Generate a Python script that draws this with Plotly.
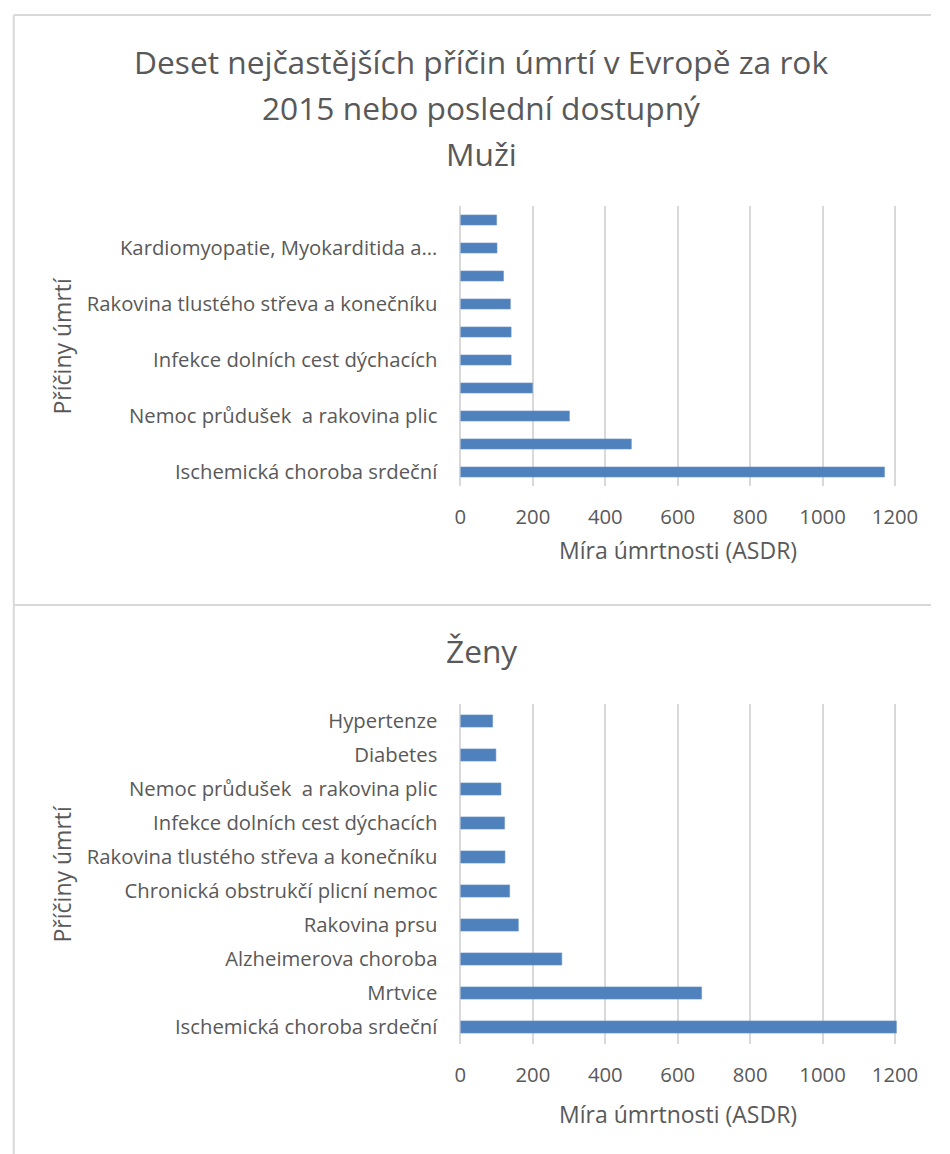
import plotly.graph_objects as go

W, H = 950, 1154

# ---------------- data ----------------
men_causes = [
    "Ischemická choroba srdeční",
    "Mrtvice",
    "Nemoc průdušek  a rakovina plic",
    "Chronická obstrukčí plicní nemoc",
    "Infekce dolních cest dýchacích",
    "Cirhóza jater",
    "Rakovina tlustého střeva a konečníku",
    "Rakovina prostaty",
    "Kardiomyopatie, Myokarditida a endokarditida",
    "Rakovina žaludku",
]
men_labels_shown = [
    "Ischemická choroba srdeční",
    "Nemoc průdušek  a rakovina plic",
    "Infekce dolních cest dýchacích",
    "Rakovina tlustého střeva a konečníku",
    "Kardiomyopatie, Myokarditida a…",
]
men_values = [1171, 472, 301, 199, 140, 140, 138, 119, 101, 100]

women_causes = [
    "Ischemická choroba srdeční",
    "Mrtvice",
    "Alzheimerova choroba",
    "Rakovina prsu",
    "Chronická obstrukčí plicní nemoc",
    "Rakovina tlustého střeva a konečníku",
    "Infekce dolních cest dýchacích",
    "Nemoc průdušek  a rakovina plic",
    "Diabetes",
    "Hypertenze",
]
women_values = [1204, 666, 280, 160, 136, 123, 122, 112, 98, 89]

x_ticks = [0, 200, 400, 600, 800, 1000, 1200]

title_lines = ["Deset nejčastějších příčin úmrtí v Evropě za rok",
               "2015 nebo poslední dostupný"]
title_men = "Muži"
title_women = "Ženy"
x_title = "Míra úmrtnosti (ASDR)"
y_title = "Příčiny úmrtí"

# ---------------- style ----------------
FONT = "Open Sans"
TXT = "#595959"
GRID = "#D9D9D9"
BAR = "#4F81BD"
LBL = 20.3
AXT = 23
TTL = 31.7


def px(x):
    return x / W


def py(y):
    return 1 - y / H


x0_px, x1200_px = 466.7, 913.0
scale = (x1200_px - x0_px) / 1200
xmax = 1210
x_dom = [px(x0_px), px(x0_px + xmax * scale)]

top_plot = (206, 486)
bot_plot = (704, 1044)

fig = go.Figure()
fig.add_trace(go.Bar(y=men_causes, x=men_values, orientation="h",
                     marker=dict(color=BAR, line=dict(color="#6F96C8", width=0.6)),
                     width=0.36, xaxis="x", yaxis="y", showlegend=False,
                     hoverinfo="x+y"))
fig.add_trace(go.Bar(y=women_causes, x=women_values, orientation="h",
                     marker=dict(color=BAR, line=dict(color="#6F96C8", width=0.6)),
                     width=0.36, xaxis="x2", yaxis="y2", showlegend=False,
                     hoverinfo="x+y"))

xaxis_common = dict(
    range=[0, xmax], tickvals=x_ticks, showgrid=True, gridcolor=GRID, gridwidth=1.5,
    zeroline=True, zerolinecolor=GRID, zerolinewidth=1.5, showline=False,
    ticks="", tickfont=dict(family=FONT, size=LBL, color=TXT),
    ticklabelstandoff=17, fixedrange=True,
)
yaxis_common = dict(
    type="category", showgrid=False, zeroline=False, showline=False, ticks="",
    tickfont=dict(family=FONT, size=LBL, color=TXT), ticklabelstandoff=22,
    fixedrange=True,
)

fig.update_layout(
    width=W, height=H,
    margin=dict(l=0, r=0, t=0, b=0),
    paper_bgcolor="white", plot_bgcolor="white",
    xaxis=dict(domain=x_dom, anchor="y", **xaxis_common),
    yaxis=dict(domain=[py(top_plot[1]), py(top_plot[0])], anchor="x",
               categoryorder="array", categoryarray=men_causes,
               tickvals=[men_causes[i] for i in range(0, 10, 2)],
               ticktext=men_labels_shown, **yaxis_common),
    xaxis2=dict(domain=x_dom, anchor="y2", **xaxis_common),
    yaxis2=dict(domain=[py(bot_plot[1]), py(bot_plot[0])], anchor="x2",
                categoryorder="array", categoryarray=women_causes,
                **yaxis_common),
    bargap=0.64,
    font=dict(family=FONT, color=TXT),
)

annotations = []
for text, yc in [(title_lines[0], 62), (title_lines[1], 107), (title_men, 153)]:
    annotations.append(dict(text=text, x=px(488), y=py(yc), xref="paper", yref="paper",
                            xanchor="center", yanchor="middle", showarrow=False,
                            font=dict(family=FONT, size=TTL, color=TXT)))
annotations.append(dict(text=title_women, x=px(488), y=py(650), xref="paper", yref="paper",
                        xanchor="center", yanchor="middle", showarrow=False,
                        font=dict(family=FONT, size=TTL, color=TXT)))
for yc in [550, 1114]:
    annotations.append(dict(text=x_title, x=px(690), y=py(yc), xref="paper", yref="paper",
                            xanchor="center", yanchor="middle", showarrow=False,
                            font=dict(family=FONT, size=AXT, color=TXT)))
for yc in [346, 874]:
    annotations.append(dict(text=y_title, x=px(58), y=py(yc), xref="paper", yref="paper",
                            xanchor="center", yanchor="middle", showarrow=False, textangle=-90,
                            font=dict(family=FONT, size=AXT, color=TXT)))
fig.update_layout(annotations=annotations)

# chart frames (Excel chart area borders)
border = dict(color=GRID, width=2)
shapes = [
    dict(type="line", xref="paper", yref="paper", x0=px(8), x1=1, y0=py(15), y1=py(15), line=border),
    dict(type="line", xref="paper", yref="paper", x0=px(8), x1=px(8), y0=py(15), y1=0, line=border),
    dict(type="line", xref="paper", yref="paper", x0=px(8), x1=1, y0=py(605), y1=py(605), line=border),
]
fig.update_layout(shapes=shapes)

fig.write_html("out.html")
